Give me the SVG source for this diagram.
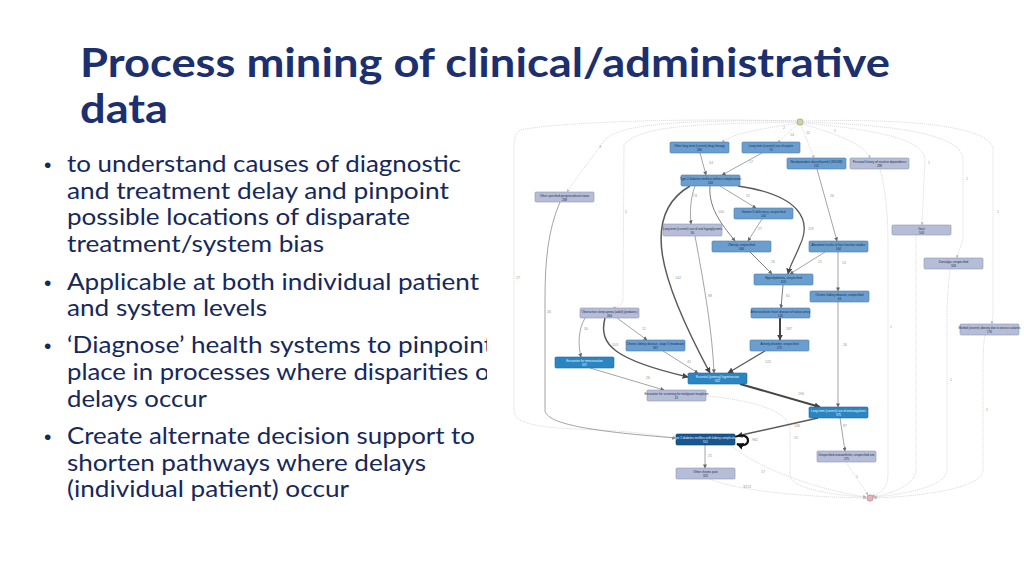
<svg xmlns="http://www.w3.org/2000/svg" width="1024" height="576" viewBox="0 0 1024 576">
<defs>
<style>
.title{font-family:Lato,"Liberation Sans",sans-serif;font-weight:700;font-size:40px;fill:#1c2f6e}
.bt{font-family:Lato,"Liberation Sans",sans-serif;font-size:23px;fill:#16285c}
.bu{font-family:"Liberation Sans",Arial,sans-serif;font-size:21px;fill:#16285c}
.nb rect{fill:#6a9ecf;stroke:#4d7cab;stroke-width:0.6}
.ng rect{fill:#b6bdd7;stroke:#8e97b4;stroke-width:0.6}
.nd rect{fill:#2a86c2;stroke:#1e6a9e;stroke-width:0.6}
.nx rect{fill:#17568f;stroke:#0f3e6a;stroke-width:0.6}
.nl{font-family:"Liberation Sans",Arial,sans-serif;font-size:3px;text-anchor:middle;fill:#1e2d4d}
.nd .nl,.nx .nl{fill:#e8f2fb}
.el{font-family:"Liberation Sans",Arial,sans-serif;font-size:3.6px;fill:#959595}
.s{fill:none;stroke:#7c7c7c;stroke-width:0.7}
.s2{fill:none;stroke:#5a5a5a;stroke-width:1.5}
.s3{fill:none;stroke:#444;stroke-width:2}
.d{fill:none;stroke:#c8c8c8;stroke-width:0.6;stroke-dasharray:1.2 0.8}
</style>
<marker id="a" viewBox="0 0 10 10" refX="9" refY="5" markerWidth="4" markerHeight="4" markerUnits="userSpaceOnUse" orient="auto"><path d="M0,0 L10,5 L0,10 z" fill="#666"/></marker>
<marker id="a2" viewBox="0 0 10 10" refX="9" refY="5" markerWidth="6" markerHeight="6" markerUnits="userSpaceOnUse" orient="auto"><path d="M0,0 L10,5 L0,10 z" fill="#444"/></marker>
<marker id="a3" viewBox="0 0 10 10" refX="9" refY="5" markerWidth="7" markerHeight="7" markerUnits="userSpaceOnUse" orient="auto"><path d="M0,0 L10,5 L0,10 z" fill="#111"/></marker>
<marker id="ad" viewBox="0 0 10 10" refX="9" refY="5" markerWidth="3" markerHeight="3" markerUnits="userSpaceOnUse" orient="auto"><path d="M0,0 L10,5 L0,10 z" fill="#b8b8b8"/></marker>
<clipPath id="clipText"><rect x="0" y="0" width="487" height="576"/></clipPath>
</defs>
<rect width="1024" height="576" fill="#ffffff"/>

<g id="title">
<text class="title" x="80" y="77" textLength="810" lengthAdjust="spacingAndGlyphs">Process mining of clinical/administrative</text>
<text class="title" x="80" y="123" textLength="88" lengthAdjust="spacingAndGlyphs">data</text>
</g>

<g id="bullets" clip-path="url(#clipText)">
<text class="bu" x="44" y="172">•</text>
<text class="bt" x="67" y="172" textLength="394" lengthAdjust="spacingAndGlyphs">to understand causes of diagnostic</text>
<text class="bt" x="67" y="199" textLength="382" lengthAdjust="spacingAndGlyphs">and treatment delay and pinpoint</text>
<text class="bt" x="67" y="225" textLength="343" lengthAdjust="spacingAndGlyphs">possible locations of disparate</text>
<text class="bt" x="67" y="252" textLength="257" lengthAdjust="spacingAndGlyphs">treatment/system bias</text>
<text class="bu" x="44" y="290">•</text>
<text class="bt" x="67" y="290" textLength="412" lengthAdjust="spacingAndGlyphs">Applicable at both individual patient</text>
<text class="bt" x="67" y="316" textLength="200" lengthAdjust="spacingAndGlyphs">and system levels</text>
<text class="bu" x="44" y="353">•</text>
<text class="bt" x="67" y="353" textLength="426" lengthAdjust="spacingAndGlyphs">‘Diagnose’ health systems to pinpoint</text>
<text class="bt" x="67" y="380" textLength="432" lengthAdjust="spacingAndGlyphs">place in processes where disparities or</text>
<text class="bt" x="67" y="407" textLength="140" lengthAdjust="spacingAndGlyphs">delays occur</text>
<text class="bu" x="44" y="444">•</text>
<text class="bt" x="67" y="444" textLength="408" lengthAdjust="spacingAndGlyphs">Create alternate decision support to</text>
<text class="bt" x="67" y="471" textLength="359" lengthAdjust="spacingAndGlyphs">shorten pathways where delays</text>
<text class="bt" x="67" y="497" textLength="282" lengthAdjust="spacingAndGlyphs">(individual patient) occur</text>
</g>

<g id="connectors">
<path class="d" d="M797,123 C770,128 735,132 722,142" marker-end="url(#ad)"/>
<path class="d" d="M798,124 L778,142" marker-end="url(#ad)"/>
<path class="d" d="M801,125 L814,158" marker-end="url(#ad)"/>
<path class="d" d="M803,124 C840,135 865,145 870,158" marker-end="url(#ad)"/>
<path class="d" d="M804,123 C880,130 925,140 925,160 L922,225" marker-end="url(#ad)"/>
<path class="d" d="M804,122 C900,125 963,135 963,160 L963,235 C963,245 958,250 957,258" marker-end="url(#ad)"/>
<path class="d" d="M804,121 C920,118 993,128 993,150 L993,310 C993,318 992,320 992,324" marker-end="url(#ad)"/>
<path class="d" d="M796,121 C700,120 620,122 605,140 C590,160 575,180 567,192" marker-end="url(#ad)"/>
<path class="d" d="M796,122 C700,124 640,125 624,145 L623,300 C622,305 617,307 613,308" marker-end="url(#ad)"/>
<path class="d" d="M796,121 C680,118 560,122 520,130 C514,135 514,140 514,150 L514,410 C514,425 540,428 600,430 C640,432 660,436 676,438" marker-end="url(#ad)"/>
<path class="d" d="M710,479 C735,490 800,497 866,498" marker-end="url(#ad)"/>
<path class="d" d="M730,445 C760,470 820,490 866,497" marker-end="url(#ad)"/>
<path class="d" d="M846,462 L868,495" marker-end="url(#ad)"/>
<path class="d" d="M706,396 C750,400 790,410 790,430 L790,475 C790,488 830,495 866,497" marker-end="url(#ad)"/>
<path class="d" d="M880,169 C888,200 888,230 888,250 L888,475 C888,488 880,494 872,496" marker-end="url(#ad)"/>
<path class="d" d="M916,235 L916,470 C916,485 890,494 873,497" marker-end="url(#ad)"/>
<path class="d" d="M950,269 C948,290 947,300 947,320 L947,470 C947,487 900,495 874,497" marker-end="url(#ad)"/>
<path class="d" d="M985,335 C983,345 983,360 983,380 L983,470 C983,490 910,497 874,498" marker-end="url(#ad)"/>
<path class="s" d="M700,153 L706,175" marker-end="url(#a)"/>
<path class="s" d="M762,153 L722,175" marker-end="url(#a)"/>
<path class="s" d="M695,186 C690,200 690,212 691,224" marker-end="url(#a)"/>
<path class="s" d="M720,186 L756,208" marker-end="url(#a)"/>
<path class="s" d="M710,186 C708,210 725,228 735,241" marker-end="url(#a)" style="stroke-width:1"/>
<path class="s2" d="M690,186 C640,215 660,280 710,373" marker-end="url(#a2)"/>
<path class="s2" d="M738,186 C800,195 812,220 800,245 C795,258 790,265 788,274" marker-end="url(#a2)" style="stroke-width:1.3"/>
<path class="s" d="M762,219 L748,241" marker-end="url(#a)"/>
<path class="s" d="M817,169 L837,241" marker-end="url(#a)"/>
<path class="s" d="M750,252 L772,274" marker-end="url(#a)" style="stroke-width:1"/>
<path class="s" d="M825,252 L790,274" marker-end="url(#a)"/>
<path class="s" d="M838,252 L838,291" marker-end="url(#a)"/>
<path class="s" d="M783,285 L781,308" marker-end="url(#a)" style="stroke-width:1"/>
<path class="s3" d="M780,318 L780,340" marker-end="url(#a2)"/>
<path class="s2" d="M765,351 L728,373" marker-end="url(#a2)" style="stroke-width:1.3"/>
<path class="s" d="M838,302 L838,407" marker-end="url(#a)"/>
<path class="s" d="M585,318 C578,330 578,345 581,357" marker-end="url(#a)"/>
<path class="s" d="M617,318 L647,340" marker-end="url(#a)"/>
<path class="s2" d="M605,318 C598,345 615,360 688,377" marker-end="url(#a2)"/>
<path class="s" d="M663,351 L698,373" marker-end="url(#a)"/>
<path class="s" d="M695,236 C705,290 712,330 714,373" marker-end="url(#a)"/>
<path class="s" d="M590,368 L664,390" marker-end="url(#a)"/>
<path class="s3" d="M740,384 L820,407" marker-end="url(#a2)"/>
<path class="s2" d="M818,418 L737,436" marker-end="url(#a2)"/>
<path class="s" d="M560,202 C548,230 545,260 545,300 L545,410 C545,425 600,432 676,438" marker-end="url(#a)"/>
<path d="M735,437 C752,430 752,450 737,444" fill="none" stroke="#111" stroke-width="2.2" marker-end="url(#a3)"/>
<path class="s" d="M705,445 L705,468" marker-end="url(#a)"/>
<path class="s" d="M840,418 L845,451" marker-end="url(#a)"/>
<g class="el">
<text x="783" y="129">2</text><text x="790" y="136">14</text><text x="806" y="134">12</text><text x="834" y="132">1</text>
<text x="928" y="164">1</text><text x="966" y="180">1</text><text x="997" y="213">1</text>
<text x="599" y="148">3</text><text x="625" y="213">5</text><text x="516" y="279">17</text>
<text x="709" y="164">54</text><text x="749" y="163">17</text><text x="693" y="197">74</text><text x="746" y="197">55</text>
<text x="718" y="213">100</text><text x="675" y="279">142</text><text x="808" y="230">119</text><text x="758" y="230">27</text>
<text x="830" y="197">26</text><text x="771" y="263">26</text><text x="818" y="263">21</text><text x="842" y="264">13</text>
<text x="786" y="297">61</text><text x="786" y="330">187</text><text x="765" y="363">122</text><text x="843" y="346">26</text>
<text x="584" y="330">30</text><text x="642" y="330">12</text><text x="612" y="346">103</text><text x="687" y="363">42</text>
<text x="708" y="297">88</text><text x="646" y="379">26</text><text x="798" y="395">196</text><text x="794" y="427">146</text>
<text x="547" y="313">26</text><text x="752" y="441">982</text><text x="708" y="457">25</text><text x="843" y="427">87</text>
<text x="743" y="488">3213</text><text x="761" y="473">17</text><text x="856" y="478">1</text><text x="794" y="439">15</text>
<text x="890" y="328">1</text><text x="950" y="381">1</text><text x="986" y="411">1</text>
</g>
</g>

<g id="start"><circle cx="800" cy="122" r="3.2" fill="#cfcfa8" stroke="#9a9a70" stroke-width="0.6"/></g>
<g id="end"><circle cx="870" cy="498" r="3.2" fill="#e6b3ba" stroke="#c07a85" stroke-width="0.6"/></g>

<g id="n1" class="nb"><rect x="670" y="142" width="59" height="11" rx="1.2"/><text class="nl" x="699.5" y="147">Other long term (current) drug therapy</text><text class="nl" x="699.5" y="151">480</text></g>
<g id="n2" class="nb"><rect x="742" y="142" width="58" height="11" rx="1.2"/><text class="nl" x="771" y="147">Long term (current) use of aspirin</text><text class="nl" x="771" y="151">70</text></g>
<g id="n3" class="nb"><rect x="787" y="158" width="59" height="11" rx="1.2"/><text class="nl" x="816.5" y="163">Nondependent abuse/harmful (NIDDM)</text><text class="nl" x="816.5" y="167">112</text></g>
<g id="n4" class="ng"><rect x="850" y="158" width="59" height="11" rx="1.2"/><text class="nl" x="879.5" y="163">Personal history of nicotine dependence</text><text class="nl" x="879.5" y="167">288</text></g>
<g id="n5" class="nb"><rect x="681" y="175" width="59" height="11" rx="1.2"/><text class="nl" x="710.5" y="180">Type 2 diabetes mellitus without complications</text><text class="nl" x="710.5" y="184">543</text></g>
<g id="n6" class="ng"><rect x="535" y="192" width="59" height="10" rx="1.2"/><text class="nl" x="564.5" y="196.5">Other specified postprocedural states</text><text class="nl" x="564.5" y="200.5">288</text></g>
<g id="n7" class="nb"><rect x="734" y="208" width="59" height="11" rx="1.2"/><text class="nl" x="763.5" y="213">Vitamin D deficiency, unspecified</text><text class="nl" x="763.5" y="217">100</text></g>
<g id="n8" class="ng"><rect x="663" y="224" width="59" height="12" rx="1.2"/><text class="nl" x="692.5" y="229.5">Long term (current) use of oral hypoglycemic</text><text class="nl" x="692.5" y="233.5">80</text></g>
<g id="n9" class="nb"><rect x="712" y="241" width="59" height="11" rx="1.2"/><text class="nl" x="741.5" y="246">Obesity, unspecified</text><text class="nl" x="741.5" y="250">446</text></g>
<g id="n10" class="nb"><rect x="809" y="241" width="59" height="11" rx="1.2"/><text class="nl" x="838.5" y="246">Abnormal results of liver function studies</text><text class="nl" x="838.5" y="250">164</text></g>
<g id="n11" class="ng"><rect x="892" y="225" width="59" height="10" rx="1.2"/><text class="nl" x="921.5" y="229.5">Gout</text><text class="nl" x="921.5" y="233.5">503</text></g>
<g id="n12" class="ng"><rect x="924" y="258" width="59" height="11" rx="1.2"/><text class="nl" x="953.5" y="263">Dorsalgia, unspecified</text><text class="nl" x="953.5" y="267">343</text></g>
<g id="n13" class="nb"><rect x="754" y="274" width="59" height="11" rx="1.2"/><text class="nl" x="783.5" y="279">Hyperlipidemia, unspecified</text><text class="nl" x="783.5" y="283">620</text></g>
<g id="n14" class="nb"><rect x="810" y="291" width="59" height="11" rx="1.2"/><text class="nl" x="839.5" y="296">Chronic kidney disease, unspecified</text><text class="nl" x="839.5" y="300">44</text></g>
<g id="n15" class="ng"><rect x="580" y="308" width="59" height="10" rx="1.2"/><text class="nl" x="609.5" y="312.5">Obstructive sleep apnea (adult) (pediatric)</text><text class="nl" x="609.5" y="316.5">464</text></g>
<g id="n16" class="nb"><rect x="751" y="308" width="59" height="10" rx="1.2"/><text class="nl" x="780.5" y="312.5">Atherosclerotic heart disease of native artery</text><text class="nl" x="780.5" y="316.5">141</text></g>
<g id="n17" class="nb"><rect x="626" y="340" width="59" height="11" rx="1.2"/><text class="nl" x="655.5" y="345">Chronic kidney disease, stage 3 (moderate)</text><text class="nl" x="655.5" y="349">367</text></g>
<g id="n18" class="nb"><rect x="750" y="340" width="59" height="11" rx="1.2"/><text class="nl" x="779.5" y="345">Anxiety disorder, unspecified</text><text class="nl" x="779.5" y="349">275</text></g>
<g id="n19" class="nd"><rect x="555" y="357" width="59" height="11" rx="1.2"/><text class="nl" x="584.5" y="362">Encounter for immunization</text><text class="nl" x="584.5" y="366">457</text></g>
<g id="n20" class="nd"><rect x="688" y="373" width="59" height="11" rx="1.2"/><text class="nl" x="717.5" y="378">Essential (primary) hypertension</text><text class="nl" x="717.5" y="382">842</text></g>
<g id="n21" class="ng"><rect x="647" y="390" width="59" height="11" rx="1.2"/><text class="nl" x="676.5" y="395">Encounter for screening for malignant neoplasm</text><text class="nl" x="676.5" y="399">41</text></g>
<g id="n22" class="nd"><rect x="809" y="407" width="59" height="11" rx="1.2"/><text class="nl" x="838.5" y="412">Long term (current) use of anticoagulants</text><text class="nl" x="838.5" y="416">375</text></g>
<g id="n23" class="nx"><rect x="676" y="434" width="59" height="11" rx="1.2"/><text class="nl" x="705.5" y="439">Type 2 diabetes mellitus with kidney complication</text><text class="nl" x="705.5" y="443">911</text></g>
<g id="n24" class="ng"><rect x="676" y="468" width="59" height="11" rx="1.2"/><text class="nl" x="705.5" y="473">Other chronic pain</text><text class="nl" x="705.5" y="477">322</text></g>
<g id="n25" class="ng"><rect x="817" y="451" width="59" height="11" rx="1.2"/><text class="nl" x="846.5" y="456">Unspecified osteoarthritis, unspecified site</text><text class="nl" x="846.5" y="460">275</text></g>
<g id="n26" class="ng"><rect x="960" y="324" width="59" height="11" rx="1.2"/><text class="nl" x="989.5" y="329">Morbid (severe) obesity due to excess calories</text><text class="nl" x="989.5" y="333">176</text></g>
</svg>
